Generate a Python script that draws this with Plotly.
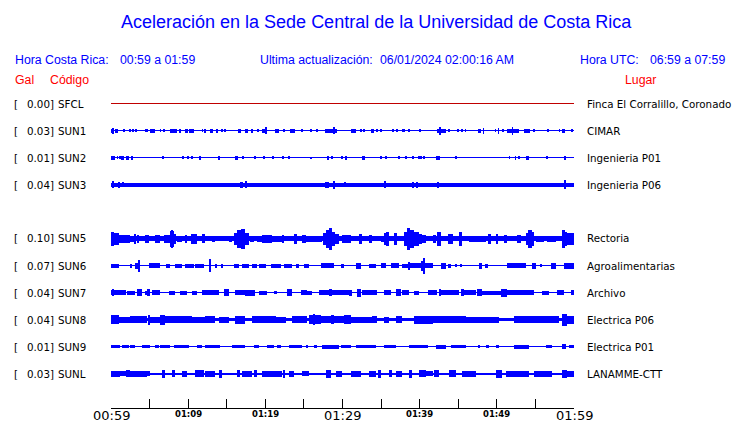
import plotly.graph_objects as go

# ---------------- data ----------------
codes = ["SFCL", "SUN1", "SUN2", "SUN3", "SUN5", "SUN6", "SUN7", "SUN8", "SUN9", "SUNL"]
gal = ["0.00", "0.03", "0.01", "0.04", "0.10", "0.07", "0.04", "0.04", "0.01", "0.03"]
places = ["Finca El Corralillo, Coronado", "CIMAR", "Ingenieria P01", "Ingenieria P06",
          "Rectoria", "Agroalimentarias", "Archivo", "Electrica P06", "Electrica P01", "LANAMME-CTT"]
slots = [0, 1, 2, 3, 5, 6, 7, 8, 9, 10]

tick_minutes = [0, 10, 20, 30, 40, 50, 60]
tick_labels = ["00:59", "01:09", "01:19", "01:29", "01:39", "01:49", "01:59"]
tick_big = [True, False, False, True, False, False, True]

# half-amplitude (trace px) of the quiet baseline of each station
base_amp = {"SFCL": 0.0, "SUN1": 0.5, "SUN2": 0.5, "SUN3": 2.0, "SUN5": 2.5, "SUN6": 0.5,
            "SUN7": 0.5, "SUN8": 1.5, "SUN9": 0.5, "SUNL": 1.0}

# envelope bursts read from the records: (start minute, end minute, half-amplitude)
SUN1 = [(0, 0.24, 2), (0.2, 0.3, 3), (0.58, 0.93, 2), (1.66, 1.79, 1.5), (2.4, 2.5, 1.5), (2.8, 2.9, 1.5),
        (3.15, 3.25, 1.5), (4.47, 4.77, 1.5), (5.11, 5.76, 2), (6.38, 6.48, 1.5), (6.8, 6.9, 1.5),
        (7.7, 8.57, 2), (8.78, 9.08, 2), (9.64, 9.99, 2), (10.16, 10.72, 2), (11.8, 11.9, 1.5),
        (12.1, 12.25, 2), (12.88, 13.18, 2), (13.7, 13.85, 2), (14.38, 14.48, 1.5), (14.72, 14.82, 1.5),
        (16.46, 16.89, 2), (17.4, 17.76, 2), (18.19, 18.36, 2), (19.0, 19.1, 1.5), (19.57, 20.26, 2),
        (20.0, 20.1, 3.5), (21.25, 21.77, 2), (22.4, 22.5, 1.5), (23.15, 23.84, 2), (24.7, 24.8, 1.5),
        (25.85, 25.95, 1.5), (26.51, 26.86, 1.5), (27.72, 29.32, 2), (28.85, 28.95, 3.5), (31.04, 31.69, 2),
        (32.3, 32.4, 1.5), (32.75, 32.85, 1.5), (33.63, 34.07, 2), (34.45, 34.55, 1.5), (34.9, 35.0, 1.5),
        (36.35, 36.65, 1.5), (37.03, 37.13, 1.5), (37.73, 38.08, 1.5), (38.6, 38.7, 1.5), (39.9, 40.2, 1.5),
        (42.31, 43.39, 2), (42.57, 42.67, 4), (43.8, 43.9, 1.5), (44.9, 45.0, 1.5), (45.45, 45.55, 1.5),
        (45.9, 46.0, 1.5), (47.62, 47.92, 2), (48.22, 48.32, 3), (49.77, 49.87, 1.5), (50.16, 50.26, 3),
        (50.7, 50.8, 1.5), (51.37, 52.88, 2), (51.97, 52.07, 4), (53.53, 54.27, 2), (54.8, 54.9, 1.5),
        (56.55, 56.65, 1.5), (58.06, 58.16, 1.5), (58.5, 58.84, 2), (59.7, 59.8, 1.5)]

SUN2 = [(0, 0.5, 2), (0.78, 0.88, 1.5), (1.07, 1.17, 1.5), (1.36, 1.66, 2), (1.88, 2.31, 2), (2.7, 2.85, 2),
        (6.7, 6.8, 1.5), (9.3, 9.4, 1.5), (9.97, 10.07, 1.5), (10.4, 10.5, 1.5), (11.37, 11.67, 2),
        (13.96, 14.17, 2), (16.12, 16.46, 2), (17.05, 17.15, 1.5), (18.6, 18.7, 1.5), (19.8, 20.0, 1.5),
        (20.82, 21.12, 1.5), (22.28, 22.38, 1.5), (23.06, 23.16, 1.5), (25.86, 25.96, 1), (28.02, 28.24, 2),
        (28.6, 28.7, 1.5), (29.9, 30.0, 1.5), (30.31, 30.61, 2), (32.55, 32.9, 2), (34.9, 35.0, 1.5),
        (35.57, 35.67, 1.5), (37.3, 37.4, 1.5), (38.16, 38.26, 1.5), (39.03, 39.24, 1.5), (39.87, 39.97, 1.5),
        (40.1, 40.2, 1.5), (40.55, 40.65, 1.5), (42.1, 42.62, 2), (44.6, 44.75, 1.5), (51.59, 51.69, 1.5),
        (52.37, 52.47, 2), (52.8, 52.9, 1.5), (53.75, 54.18, 2), (56.42, 56.52, 1.5), (58.75, 58.85, 2)]

SUN3 = [(0.15, 0.37, 3.5), (0.93, 1.23, 3), (1.44, 1.66, 2.5), (16.76, 17.07, 3), (17.33, 17.63, 3.5),
        (27.72, 28.24, 3), (28.76, 29.02, 4), (30.3, 30.5, 2.5), (35.36, 35.66, 3.5), (39.03, 39.24, 3),
        (39.55, 39.72, 3), (42.31, 42.44, 3), (58.71, 58.84, 4.5)]

SUN5 = [(0, 0.37, 7), (0.37, 1.01, 6), (1.01, 2.52, 4), (2.52, 3.08, 3), (3.08, 3.26, 5), (3.39, 3.69, 4),
        (4.47, 4.98, 4), (5.76, 6.4, 4), (6.84, 7.7, 4), (7.7, 8.13, 8), (7.85, 7.95, 9), (8.13, 8.43, 5),
        (8.57, 9.21, 3), (9.56, 9.82, 4), (10.42, 11.15, 5), (11.8, 12.23, 4.5), (13.1, 13.53, 3),
        (15.25, 15.68, 3), (15.9, 16.33, 6), (16.33, 16.89, 9), (16.89, 17.41, 10), (17.41, 17.84, 6),
        (18.06, 18.49, 3), (18.92, 19.57, 3), (19.61, 20.9, 4), (20.9, 22.2, 3), (22.2, 22.4, 4),
        (23.84, 24.05, 5), (24.79, 25.22, 4), (25.22, 27.38, 3), (27.5, 27.81, 6), (27.81, 28.24, 9),
        (28.24, 28.67, 11), (28.67, 29.02, 7), (29.02, 29.53, 5), (29.97, 31.04, 4), (32.12, 32.55, 5),
        (33.42, 33.85, 4), (34.93, 35.36, 3), (35.36, 35.66, 6), (35.66, 36.0, 7), (36.65, 37.09, 6),
        (37.95, 38.38, 7), (38.38, 38.81, 11), (38.81, 39.24, 9), (39.24, 39.89, 7), (39.89, 40.32, 5),
        (40.32, 40.8, 4), (41.67, 42.1, 4), (42.31, 42.74, 7), (43.61, 44.26, 5), (45.12, 45.55, 7),
        (46.41, 48.57, 3), (48.79, 49.22, 5), (49.95, 50.21, 5), (50.94, 51.37, 4), (52.67, 53.1, 4),
        (53.75, 54.09, 6), (54.09, 54.52, 9), (54.52, 54.83, 7), (55.04, 56.12, 3), (56.55, 57.63, 3),
        (58.5, 58.84, 9), (58.84, 59.14, 7), (59.14, 60.0, 6)]

SUN6 = [(0, 1.01, 2), (2.4, 2.74, 2), (3.17, 3.47, 3), (3.47, 3.73, 6), (4.9, 6.4, 2.5), (7.14, 7.7, 2),
        (8.35, 9.21, 2), (9.64, 10.72, 2), (10.94, 12.02, 2), (12.66, 13.01, 6.5), (13.53, 13.74, 2),
        (14.3, 14.48, 2), (15.9, 16.55, 2), (16.98, 17.84, 2), (18.27, 18.92, 2), (19.14, 19.9, 2),
        (19.61, 20.04, 2), (20.69, 21.98, 2), (22.4, 23.49, 2), (23.92, 24.36, 2), (25.0, 25.65, 2),
        (27.16, 28.89, 2.5), (29.75, 30.18, 2), (31.69, 32.34, 3), (33.42, 34.28, 2), (34.93, 35.58, 2.5),
        (36.22, 37.3, 2.5), (37.73, 38.51, 2), (38.51, 38.68, 4), (38.81, 40.16, 2.5), (40.16, 40.46, 5),
        (40.46, 40.72, 8), (40.72, 41.67, 2.5), (42.74, 43.39, 3), (43.61, 44.04, 2), (44.69, 44.79, 1.5),
        (45.33, 45.43, 1.5), (47.71, 48.14, 3), (48.57, 48.79, 2), (51.37, 53.75, 2.5), (54.61, 55.04, 3),
        (55.69, 55.79, 1.5), (56.98, 57.63, 3), (58.71, 60.0, 3)]

SUN7 = [(0, 1.88, 2.5), (0.25, 0.35, 3.5), (2.09, 3.17, 2), (3.39, 4.03, 3.5), (4.47, 4.68, 2), (4.68, 5.11, 3.5),
        (5.33, 6.4, 2.5), (7.49, 8.35, 2), (8.99, 9.86, 2), (10.51, 11.15, 2), (11.8, 13.96, 2.5),
        (14.6, 15.25, 3.5), (16.12, 17.41, 2.5), (17.41, 18.7, 3), (19.14, 20.26, 2), (21.12, 21.55, 1.5),
        (22.85, 23.49, 3.5), (24.57, 25.44, 2.5), (25.44, 26.08, 2), (26.95, 28.24, 2.5), (28.24, 28.67, 3.5),
        (28.67, 30.83, 2.5), (30.92, 31.17, 3), (31.91, 32.34, 4), (32.55, 34.5, 2.5), (35.36, 36.22, 2.5),
        (36.87, 37.52, 3.5), (37.73, 38.6, 2.5), (39.24, 39.89, 2), (41.02, 42.31, 2.5), (42.44, 42.7, 3.5),
        (42.74, 45.12, 2.5), (45.33, 45.77, 3.5), (45.77, 47.28, 2.5), (47.49, 48.14, 3.5), (48.14, 50.51, 2),
        (50.51, 51.37, 4), (51.37, 54.83, 2.5), (55.9, 56.77, 2), (57.85, 58.71, 2.5), (59.57, 60.0, 2.5)]

SUN8 = [(0, 1.01, 4.5), (1.01, 2.52, 3), (2.52, 4.68, 3.5), (4.81, 5.07, 5), (5.07, 6.4, 3), (6.4, 7.05, 5),
        (7.05, 10.51, 3.5), (10.51, 12.23, 3), (12.23, 13.53, 3.5), (13.96, 15.25, 3), (16.12, 17.41, 4),
        (18.27, 19.57, 3.5), (19.61, 21.34, 3.5), (21.34, 22.63, 3), (23.49, 25.44, 3.5), (25.65, 27.16, 4.5),
        (26.17, 26.43, 5.5), (27.16, 30.18, 3.5), (28.46, 28.89, 4.5), (30.18, 31.04, 4.5), (31.04, 33.85, 3),
        (33.85, 34.5, 3.5), (35.36, 36.0, 3), (36.87, 37.73, 3.5), (39.24, 41.67, 4), (41.67, 45.98, 3.5),
        (45.98, 50.3, 3), (52.24, 58.06, 3.5), (58.5, 59.14, 6), (59.14, 60.0, 4)]

SUN9 = [(0, 1.23, 1.5), (1.44, 2.31, 1.5), (2.52, 3.17, 1.5), (4.03, 5.11, 1.5), (5.76, 6.19, 1.5),
        (6.41, 7.7, 1.5), (8.13, 10.07, 1.5), (11.15, 11.8, 1.5), (12.23, 14.17, 1.5), (15.68, 17.41, 1.5),
        (18.49, 19.14, 1.5), (20.26, 21.12, 1.5), (21.55, 21.98, 1.5), (23.06, 24.79, 1.5), (25.3, 25.56, 1.5),
        (26.3, 26.73, 1.5), (27.38, 29.53, 2), (29.75, 31.04, 1.5), (31.69, 34.28, 1.5), (35.36, 36.87, 1.5),
        (38.6, 41.02, 1.5), (42.1, 43.39, 2), (44.04, 45.98, 1.5), (47.62, 47.88, 1.5), (48.57, 49.0, 1.5),
        (49.86, 50.3, 1.5), (52.24, 54.18, 2), (56.34, 57.2, 1.5), (58.5, 58.93, 2.5), (59.36, 60.0, 1.5)]

SUNL = [(0, 1.23, 3), (1.23, 1.88, 2.5), (1.88, 2.52, 3.5), (2.52, 4.68, 3), (4.68, 5.11, 2.5), (6.62, 7.05, 4),
        (7.92, 8.35, 3.5), (9.21, 9.86, 3), (10.94, 12.02, 3.5), (12.23, 13.53, 3), (13.96, 14.39, 4),
        (16.33, 16.76, 3.5), (16.98, 18.27, 3), (18.49, 18.92, 3.5), (19.61, 22.2, 3), (22.29, 22.54, 4),
        (23.06, 23.71, 3), (24.79, 25.65, 2.5), (27.81, 28.46, 4), (29.1, 29.97, 3), (31.04, 32.34, 3),
        (33.42, 34.28, 3), (34.71, 34.93, 4), (36.0, 36.44, 3.5), (36.87, 37.73, 3), (38.6, 39.03, 4),
        (39.94, 40.8, 3.5), (40.8, 41.67, 2.5), (41.88, 42.53, 3.5), (43.82, 44.69, 3.5), (45.55, 47.28, 3),
        (49.86, 50.73, 4), (51.16, 54.18, 3), (54.83, 57.2, 3), (58.5, 59.14, 4), (59.14, 60.0, 3)]

bursts = {"SFCL": [], "SUN1": SUN1, "SUN2": SUN2, "SUN3": SUN3, "SUN5": SUN5, "SUN6": SUN6,
          "SUN7": SUN7, "SUN8": SUN8, "SUN9": SUN9, "SUNL": SUNL}

# ---------------- layout helpers ----------------
W, H = 740, 423
ML, MR, MT, MB = 111, 166, 90, 15
PW = W - ML - MR
PH = H - MT - MB
Y_TOP, Y_BOT = MT, H - MB          # y axis is in screen px units

BLUE = "#0000ff"
RED = "#ff0000"
SANS = "Liberation Sans, Arial, sans-serif"
DEJA = "DejaVu Sans, sans-serif"


def px_x(px):
    return (px - ML) / PW


def px_y(py):
    return (Y_BOT - py) / PH


def baseline(slot):
    return 103.5 + 27 * slot


fig = go.Figure()

for code, slot in zip(codes, slots):
    y0 = baseline(slot)
    if code == "SFCL":
        fig.add_trace(go.Scatter(x=[0, 60], y=[y0, y0], mode="lines",
                                 line=dict(color="#c00000", width=1), hoverinfo="skip"))
        continue
    segs = [(0, 60, base_amp[code])] + bursts[code]
    xs = [(s + e) / 2 for s, e, a in segs]
    ws = [(e - s) for s, e, a in segs]
    hs = [2 * a for s, e, a in segs]
    bs = [y0 - a for s, e, a in segs]
    fig.add_trace(go.Bar(x=xs, y=hs, base=bs, width=ws, marker=dict(color=BLUE, line=dict(width=0)),
                         hoverinfo="skip"))

ann = []


def text(px, py, s, color="black", size=10.3, family=DEJA, anchor="left"):
    ann.append(dict(x=px_x(px), y=px_y(py), xref="paper", yref="paper", text=s, showarrow=False,
                    xanchor=anchor, yanchor="middle", borderpad=0,
                    font=dict(color=color, size=size, family=family)))


# header
text(376, 22, "Aceleración en la Sede Central de la Universidad de Costa Rica", BLUE, 18, SANS, "center")
text(14, 60, "Hora Costa Rica:", BLUE, 12.3, SANS)
text(119, 60, "00:59 a 01:59", BLUE, 12.3, SANS)
text(259, 60, "Ultima actualización:", BLUE, 12.3, SANS)
text(379, 60, "06/01/2024 02:00:16 AM", BLUE, 12.3, SANS)
text(579, 60, "Hora UTC:", BLUE, 12.3, SANS)
text(649, 60, "06:59 a 07:59", BLUE, 12.3, SANS)
text(14, 80, "Gal", RED, 12.3, SANS)
text(49, 80, "Código", RED, 12.3, SANS)
text(624, 80, "Lugar", RED, 12.3, SANS)

for code, g, place, slot in zip(codes, gal, places, slots):
    y0 = baseline(slot)
    text(13, y0, "[")
    text(55, y0, g + "]", anchor="right")
    text(57, y0, code)
    text(586, y0, place)

# time-axis labels, placed on the x axis data coordinates
for m, lab, big in zip(tick_minutes, tick_labels, tick_big):
    ann.append(dict(x=m, y=px_y(415 if big else 414), xref="x", yref="paper",
                    text=lab if big else "<b>" + lab + "</b>",
                    showarrow=False, xanchor="center", yanchor="middle", borderpad=0,
                    font=dict(color="black", size=13 if big else 8.5, family=DEJA)))

fig.update_layout(
    width=W, height=H, margin=dict(l=ML, r=MR, t=MT, b=MB, autoexpand=False),
    paper_bgcolor="white", plot_bgcolor="white", showlegend=False,
    barmode="overlay", bargap=0,
    annotations=ann,
    xaxis=dict(range=[0, 60], tickvals=tick_minutes, showticklabels=False, ticks="inside", ticklen=9,
               tickcolor="black", tickwidth=1, showline=True, linecolor="black", linewidth=1,
               showgrid=False, zeroline=False,
               minor=dict(dtick=5, tick0=0, ticks="inside", ticklen=9, tickcolor="black", showgrid=False),
               fixedrange=True, automargin=False),
    yaxis=dict(range=[Y_BOT, Y_TOP], visible=False, fixedrange=True, showgrid=False, zeroline=False),
)

fig.write_html("out.html", config={"displayModeBar": False},
               post_script="document.body.style.margin='0';document.body.style.overflow='hidden';")
